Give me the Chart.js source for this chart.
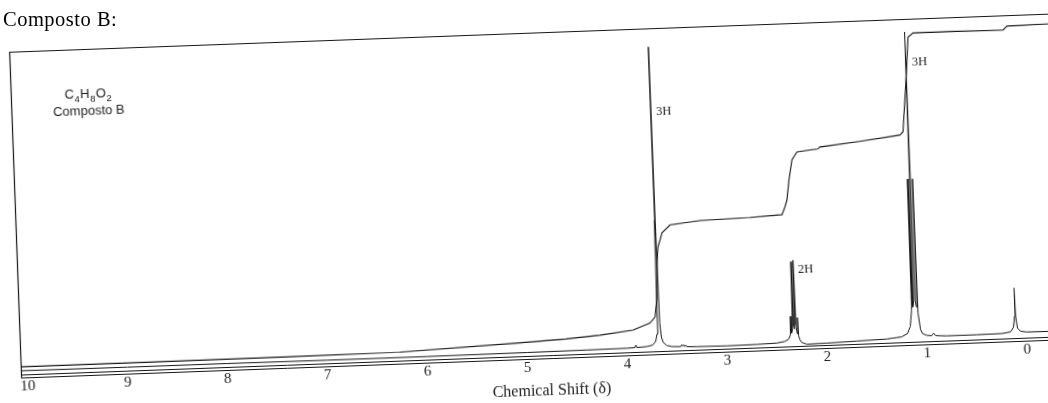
<!DOCTYPE html>
<html>
<head>
<meta charset="utf-8">
<script src="https://cdn.jsdelivr.net/npm/chart.js@4.4.1/dist/chart.umd.min.js"></script>
<style>
  html, body { margin: 0; padding: 0; background: #fff; overflow: hidden; width: 1048px; height: 403px; }
  #heading {
    position: absolute; left: 3px; top: 9px;
    font: 20.5px 'Liberation Serif', 'Times New Roman', serif; line-height: 20px;
    letter-spacing: 0.5px; color: #000; white-space: nowrap;
  }
  /* the printed sheet sits slightly askew */
  #sheet {
    position: absolute; left: 0; top: 0; width: 1080px; height: 403px;
    transform-origin: 524px 201.5px; transform: rotate(-2.1deg);
  }
</style>
</head>
<body>
<div id="sheet"><canvas id="nmr" width="1080" height="403"></canvas></div>
<div id="heading">Composto B:</div>
<script>
// chemical shift axis (ppm)
const tickValues = [10, 9, 8, 7, 6, 5, 4, 3, 2, 1, 0];
const axisTitle = 'Chemical Shift (δ)';

// 1H spectrum trace: shift (ppm) and intensity
const specPpm = [
  10.07, 9.0, 8.0, 7.0, 6.0, 5.0, 4.4, 4.0, 3.92, 3.91, 3.90,
  3.80, 3.74, 3.71, 3.695, 3.686, 3.681, 3.676, 3.671, 3.663, 3.652, 3.635, 3.60, 3.55,
  3.46, 3.45, 3.44, 3.43, 3.42, 3.41, 3.40, 3.3, 3.0, 2.7, 2.5, 2.42, 2.38,
  2.362, 2.355, 2.349, 2.338, 2.332, 2.326, 2.3205, 2.315, 2.309, 2.303, 2.292, 2.286, 2.280, 2.27, 2.25,
  2.2, 2.0, 1.7, 1.4, 1.25, 1.19, 1.16,
  1.142, 1.135, 1.128, 1.117, 1.110, 1.103, 1.092, 1.085, 1.078, 1.06, 1.04, 1.0,
  0.95, 0.93, 0.91, 0.8, 0.5, 0.25, 0.16, 0.13, 0.115, 0.110, 0.105, 0.09, 0.06, 0.0, -0.3, -0.53
];
const specInt = [
  0.3, 0.2, 0.2, 0.1, 0.1, 0.2, 0.3, 0.4, 0.5, 1.3, 0.5,
  0.7, 1.1, 2.2, 4.5, 12, 40, 94.2, 40, 8, 3.5, 1.8, 0.8, 0.4,
  0.3, 0.9, 0.4, 0.8, 0.3, 0.7, 0.2, 0.1, 0.0, 0.1, 0.3, 0.7, 1.4,
  2.6, 8.5, 3.2, 4.5, 25.5, 5.5, 4.5, 6, 26, 5, 3, 8, 2.5, 1.2, 0.2,
  -0.4, -0.3, 0.0, 0.3, 0.8, 1.8, 4,
  9, 50, 10, 12, 95.9, 12, 10, 50, 8, 3, 1.6, 1.0,
  0.8, 1.6, 0.8, 0.6, 0.6, 0.7, 1.1, 2.5, 6, 14.8, 6, 2.2, 1.2, 0.9, 0.8, 0.8
];

// integral trace
const intPpm = [
  10.07, 8.8, 7.47, 6.27, 5.07, 4.6, 4.264, 3.933, 3.76, 3.708, 3.681, 3.668, 3.653, 3.607, 3.525,
  3.223, 2.723, 2.402, 2.369, 2.347, 2.319, 2.282, 2.229, 2.10, 2.02, 1.997, 1.60,
  1.194, 1.162, 1.113, 1.077, 1.026, 0.60, 0.125, 0.084, -0.327, -0.53
];
const intVal = [
  1.5, 1.5, 1.6, 1.8, 3.3, 4.0, 4.8, 6.0, 8.0, 9.8, 16.1, 26.6, 31.6, 36.0, 38.4,
  39.4, 39.8, 40.3, 42.7, 44.8, 51.1, 57.3, 59.7, 60.2, 60.4, 61.0, 62.3,
  63.8, 64.8, 80.9, 94.3, 95.5, 95.5, 95.4, 96.6, 96.8, 96.9
];

// proton-count labels next to the peaks
const peakLabels = ['3H', '2H', '3H'];
const peakLabelPpm = [3.623, 2.262, 1.047];
const peakLabelVal = [73.8, 22.9, 86.5];

// sample caption
const formula = 'C4H8O2';
const sampleName = 'Composto B';

const ink = '#161616';
const serif = "'Liberation Serif', 'Times New Roman', serif";
const sans = "'Liberation Sans', Arial, sans-serif";

const toPoints = (xs, ys) => xs.map((x, i) => ({ x: x, y: ys[i] }));

// formula with subscripted digits, centred on cx
function drawFormula(ctx, text, cx, y) {
  const parts = text.match(/[A-Za-z]+|\d+/g);
  const big = '13px ' + sans, small = '9.5px ' + sans;
  let w = 0;
  parts.forEach(p => { ctx.font = /\d/.test(p) ? small : big; w += ctx.measureText(p).width + 0.5; });
  let x = cx - w / 2;
  parts.forEach(p => {
    const sub = /\d/.test(p);
    ctx.font = sub ? small : big;
    ctx.fillText(p, x, sub ? y + 3.5 : y);
    x += ctx.measureText(p).width + 0.5;
  });
}

const sheetDecor = {
  id: 'sheetDecor',
  beforeDatasetsDraw(chart) {
    const { ctx, chartArea: a } = chart;
    ctx.save();
    ctx.strokeStyle = ink;
    ctx.lineWidth = 1.2;
    // left and top edges of the plot frame
    ctx.beginPath();
    ctx.moveTo(a.left + 0.5, a.bottom + 3.5);
    ctx.lineTo(a.left + 0.5, a.top + 0.5);
    ctx.lineTo(chart.width, a.top + 0.5);
    ctx.stroke();
    // double-ruled baseline axis
    ctx.beginPath();
    ctx.moveTo(chart.width, a.bottom + 0.5);
    ctx.lineTo(a.left + 0.5, a.bottom + 0.5);
    ctx.lineTo(a.left + 0.5, a.bottom + 3.5);
    ctx.lineTo(chart.width, a.bottom + 3.5);
    ctx.lineWidth = 1;
    ctx.stroke();
    ctx.restore();
  },
  afterDatasetsDraw(chart) {
    const { ctx, chartArea: a, scales: { x, y } } = chart;
    ctx.save();
    ctx.fillStyle = '#1c1c1c';
    ctx.textBaseline = 'middle';
    ctx.textAlign = 'left';
    ctx.font = '12.5px ' + serif;
    peakLabels.forEach((t, i) => {
      ctx.fillText(t, x.getPixelForValue(peakLabelPpm[i]), y.getPixelForValue(peakLabelVal[i]));
    });
    ctx.textBaseline = 'alphabetic';
    drawFormula(ctx, formula, a.left + 77.5, a.top + 49);
    ctx.textAlign = 'center';
    ctx.font = '13px ' + sans;
    ctx.fillText(sampleName, a.left + 77.5, a.top + 66);
    ctx.restore();
  }
};

new Chart(document.getElementById('nmr'), {
  type: 'scatter',
  data: {
    datasets: [
      { data: toPoints(intPpm, intVal), showLine: true, borderColor: ink, borderWidth: 1.1, pointRadius: 0, tension: 0 },
      { data: toPoints(specPpm, specInt), showLine: true, borderColor: ink, borderWidth: 1, pointRadius: 0, tension: 0 }
    ]
  },
  options: {
    responsive: false,
    animation: false,
    devicePixelRatio: 1,
    layout: { padding: { left: 15, right: 5, top: 33, bottom: 0 } },
    plugins: { legend: { display: false }, tooltip: { enabled: false } },
    scales: {
      x: {
        type: 'linear', reverse: true, min: -0.535, max: 10.065,
        grid: { display: false, drawTicks: false },
        border: { display: false },
        ticks: {
          font: { family: serif, size: 15 }, color: '#222', padding: 3,
          maxRotation: 0, autoSkip: false, callback: v => String(v)
        },
        afterBuildTicks: s => { s.ticks = tickValues.map(v => ({ value: v })); },
        afterFit: s => { s.height = 47; },
        title: { display: true, text: axisTitle, font: { family: serif, size: 16 }, color: '#222', padding: { top: 0, bottom: 2 } }
      },
      y: { display: false, min: -0.874, max: 100 }
    }
  },
  plugins: [sheetDecor]
});
</script>
</body>
</html>
